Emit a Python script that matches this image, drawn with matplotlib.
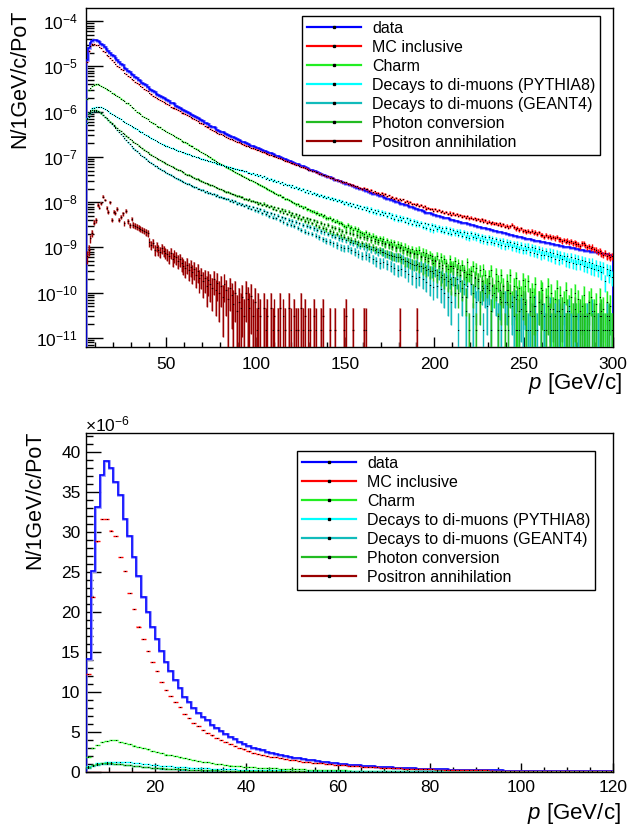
import numpy as np
import matplotlib
matplotlib.use("Agg")
import matplotlib.pyplot as plt
from matplotlib.lines import Line2D
from matplotlib.ticker import LogLocator, MultipleLocator, NullFormatter

plt.rcParams["font.family"] = ["Liberation Sans", "DejaVu Sans"]
plt.rcParams["mathtext.fontset"] = "custom"
plt.rcParams["mathtext.rm"] = "Liberation Sans"
plt.rcParams["mathtext.it"] = "Liberation Sans:italic"

# momentum bins of 1 GeV/c, from 5 to 300 GeV/c
p_lo, p_hi = 5, 300

# 100 * log10(N / 1GeV/c / PoT) for every bin, None = empty bin
data_log = [
    -485, -460, -448, -443, -441,
    -442, -444, -446, -450, -453, -457, -461, -466, -470, -474,
    -478, -482, -486, -490, -494, -498, -503, -506, -510, -513,
    -516, -519, -523, -526, -529, -532, -536, -539, -542, -546,
    -549, -552, -555, -557, -560, -563, -565, -568, -570, -573,
    -575, -577, -580, -582, -584, -587, -589, -591, -594, -596,
    -598, -601, -603, -605, -608, -610, -612, -614, -617, -619,
    -621, -624, -626, -628, -631, -633, -635, -637, -640, -642,
    -644, -646, -648, -650, -652, -654, -655, -657, -659, -661,
    -663, -665, -666, -668, -670, -671, -673, -675, -676, -678,
    -680, -681, -683, -685, -686, -688, -689, -691, -692, -694,
    -696, -697, -699, -700, -702, -704, -705, -707, -708, -710,
    -712, -713, -715, -716, -718, -720, -721, -723, -724, -726,
    -728, -729, -731, -732, -734, -736, -737, -739, -740, -742,
    -744, -745, -747, -748, -750, -751, -753, -754, -756, -757,
    -759, -760, -762, -763, -765, -766, -768, -769, -771, -772,
    -773, -775, -776, -778, -779, -781, -782, -783, -785, -786,
    -787, -789, -790, -792, -793, -795, -796, -797, -799, -800,
    -801, -803, -804, -806, -807, -809, -810, -811, -813, -814,
    -815, -817, -818, -820, -821, -823, -824, -825, -827, -828,
    -829, -830, -831, -832, -833, -834, -835, -836, -837, -839,
    -840, -841, -842, -843, -844, -845, -846, -847, -848, -849,
    -850, -851, -852, -853, -854, -855, -856, -857, -858, -859,
    -860, -861, -862, -863, -864, -865, -866, -867, -868, -869,
    -870, -871, -872, -873, -874, -875, -876, -877, -878, -879,
    -880, -881, -882, -882, -883, -884, -885, -886, -886, -887,
    -888, -889, -890, -890, -891, -892, -893, -894, -894, -895,
    -896, -897, -898, -898, -899, -900, -901, -902, -902, -903,
    -904, -905, -905, -906, -907, -908, -908, -909, -910, -910,
    -911, -912, -912, -913, -914, -915, -915, -916, -917, -918,
]

mc_log = [
    -491, -466, -454, -450, -450,
    -452, -453, -457, -460, -465, -469, -474, -478, -482, -486,
    -490, -495, -499, -502, -506, -509, -514, -517, -521, -524,
    -528, -531, -534, -537, -540, -543, -546, -549, -552, -555,
    -559, -562, -565, -567, -570, -572, -574, -577, -579, -582,
    -584, -586, -589, -591, -593, -595, -597, -599, -602, -604,
    -606, -608, -610, -612, -615, -617, -619, -621, -624, -626,
    -628, -631, -633, -635, -638, -640, -642, -644, -647, -649,
    -650, -652, -654, -656, -658, -660, -661, -663, -665, -667,
    -668, -670, -671, -673, -675, -676, -678, -680, -681, -683,
    -684, -685, -687, -689, -690, -692, -693, -695, -696, -698,
    -699, -700, -702, -703, -705, -707, -708, -710, -711, -713,
    -714, -715, -717, -718, -720, -722, -723, -724, -726, -728,
    -729, -731, -731, -734, -734, -737, -737, -740, -741, -743,
    -743, -746, -746, -747, -750, -750, -753, -753, -756, -756,
    -756, -759, -759, -762, -762, -765, -765, -768, -768, -771,
    -768, -772, -771, -775, -773, -778, -776, -780, -779, -783,
    -780, -784, -782, -787, -785, -790, -788, -792, -791, -795,
    -792, -796, -794, -799, -797, -802, -800, -804, -803, -807,
    -804, -808, -806, -811, -809, -814, -812, -816, -815, -819,
    -816, -820, -817, -822, -819, -824, -821, -826, -823, -828,
    -825, -828, -826, -830, -828, -832, -830, -834, -831, -836,
    -834, -837, -835, -839, -837, -841, -838, -843, -840, -845,
    -843, -847, -844, -848, -846, -850, -847, -852, -849, -854,
    -852, -856, -853, -850, -855, -859, -856, -861, -858, -863,
    -862, -866, -863, -867, -864, -869, -866, -871, -867, -872,
    -872, -876, -873, -877, -874, -879, -876, -880, -877, -882,
    -882, -886, -883, -887, -885, -889, -886, -891, -888, -892,
    -893, -897, -890, -891, -895, -900, -897, -902, -899, -904,
    -906, -910, -908, -913, -916, -912, -919, -917, -922, -920,
]

charm_log = [
    -572, -553, -547, -543, -541,
    -540, -540, -542, -544, -546, -548, -551, -553, -555, -558,
    -560, -563, -566, -568, -571, -574, -576, -580, -582, -585,
    -589, -592, -596, -600, -602, -606, -609, -611, -614, -617,
    -621, -623, -626, -628, -631, -633, -635, -638, -640, -643,
    -645, -647, -650, -652, -654, -657, -659, -661, -664, -666,
    -668, -670, -673, -675, -677, -680, -682, -684, -687, -689,
    -691, -694, -696, -699, -701, -704, -706, -709, -711, -714,
    -716, -718, -720, -723, -725, -727, -729, -731, -734, -736,
    -738, -740, -742, -744, -746, -748, -750, -752, -754, -756,
    -758, -760, -762, -764, -766, -769, -771, -773, -775, -777,
    -780, -781, -785, -785, -788, -789, -793, -793, -796, -797,
    -800, -801, -805, -804, -808, -809, -812, -811, -816, -815,
    -818, -820, -821, -825, -823, -828, -827, -831, -829, -835,
    -836, -834, -840, -838, -843, -841, -846, -845, -848, -852,
    -854, -851, -858, -855, -861, -857, -864, -860, -866, -869,
    -870, -866, -875, -871, -878, -874, -881, -877, -884, -880,
    -886, -881, -891, -884, -893, -887, -897, -889, -899, -893,
    -900, -894, -906, -898, -909, -901, -912, -903, -915, -906,
    -914, -905, -922, -910, -925, -912, -930, -916, -920, -934,
    -928, -918, -940, -922, -945, -926, -935, -948, -925, -941,
    -940, -930, -955, -935, -960, -938, -950, -965, -932, -958,
    -952, -940, -968, -945, -975, -950, -985, -948, -962, -990,
    -963, -950, -982, -1000, -958, -975, -1010, -960, -985, None,
    -974, -995, -960, -1020, -985, -968, -1082, -990, -1005, -972,
    -985, -1040, -975, -1082, -998, -1010, -980, None, -1020, -990,
    -995, -1082, -1010, -985, -1052, -1000, -1082, -1015, -990, -1040,
    -1005, -1082, -1020, -995, None, -1030, -1010, -1082, -1000, -1052,
    -1015, -1082, -1030, -1005, -1052, -1082, -1020, -1010, None, -1040,
    -1025, -1082, -1010, -1052, -1035, -1082, -1020, -1060, -1030, -1082,
]

dimuon_pythia_log = [
    -615, -604, -597, -593, -591,
    -590, -589, -589, -590, -592, -594, -597, -599, -602, -605,
    -607, -610, -612, -615, -617, -620, -622, -625, -627, -630,
    -632, -635, -637, -639, -642, -644, -646, -649, -651, -653,
    -656, -659, -661, -663, -665, -667, -669, -671, -673, -675,
    -677, -678, -680, -681, -683, -684, -686, -687, -689, -690,
    -692, -693, -694, -696, -697, -698, -700, -701, -702, -704,
    -705, -706, -707, -709, -710, -711, -712, -714, -715, -716,
    -717, -718, -719, -721, -722, -723, -724, -725, -726, -727,
    -728, -730, -730, -732, -732, -735, -735, -737, -736, -739,
    -738, -742, -741, -745, -743, -748, -746, -750, -749, -753,
    -751, -755, -754, -758, -756, -761, -759, -763, -761, -766,
    -763, -768, -766, -771, -769, -774, -771, -777, -774, -779,
    -776, -781, -779, -784, -782, -786, -784, -789, -786, -791,
    -788, -793, -790, -796, -792, -798, -795, -800, -797, -803,
    -799, -805, -801, -808, -804, -810, -806, -813, -808, -815,
    -810, -817, -812, -820, -814, -822, -817, -825, -819, -827,
    -821, -828, -823, -831, -825, -834, -828, -837, -830, -839,
    -832, -839, -834, -843, -836, -846, -839, -849, -841, -851,
    -843, -850, -845, -854, -847, -857, -849, -860, -851, -862,
    -852, -860, -854, -863, -856, -866, -858, -868, -860, -870,
    -861, -869, -863, -872, -865, -874, -867, -877, -869, -879,
    -869, -878, -871, -880, -873, -883, -875, -885, -877, -887,
    -878, -887, -880, -890, -882, -892, -884, -895, -886, -897,
    -887, -896, -889, -899, -891, -901, -893, -904, -895, -906,
    -896, -906, -898, -909, -900, -912, -902, -914, -904, -917,
    -906, -916, -908, -919, -910, -922, -912, -925, -914, -927,
    -916, -926, -918, -930, -920, -932, -922, -935, -924, -937,
    -926, -937, -928, -940, -930, -943, -932, -946, -934, -948,
    -938, -950, -941, -954, -944, -975, -947, -960, -950, -965,
]

dimuon_geant4_log = [
    -625, -611, -604, -601, -599,
    -598, -599, -601, -604, -607, -611, -615, -619, -623, -628,
    -632, -636, -641, -645, -650, -654, -659, -663, -668, -672,
    -677, -681, -684, -688, -691, -695, -698, -701, -704, -708,
    -711, -713, -716, -719, -721, -724, -726, -729, -731, -734,
    -736, -738, -740, -743, -745, -747, -749, -751, -753, -755,
    -757, -759, -760, -763, -764, -766, -767, -770, -770, -773,
    -773, -777, -776, -780, -779, -783, -782, -786, -785, -789,
    -788, -791, -790, -794, -793, -797, -795, -800, -798, -803,
    -801, -806, -804, -809, -806, -812, -809, -815, -811, -818,
    -813, -820, -816, -824, -819, -827, -822, -831, -825, -834,
    -827, -836, -830, -840, -833, -844, -836, -848, -839, -851,
    -841, -852, -844, -857, -847, -861, -850, -865, -853, -868,
    -855, -870, -858, -874, -861, -878, -864, -882, -867, -885,
    -870, -887, -873, -891, -876, -895, -879, -899, -882, -902,
    -884, -902, -887, -906, -890, -910, -893, -914, -896, -918,
    -897, -917, -900, -921, -903, -926, -906, -930, -909, -934,
    -910, -932, -913, -937, -916, -941, -919, -945, -922, -950,
    -922, -947, -926, -952, -930, -958, -934, -963, -938, -968,
    -936, -965, -940, -970, -944, -976, -948, -982, -952, -988,
    -950, -985, -955, -992, -960, -1000, -965, -1010, -970, -1020,
    -965, -1000, -970, -1082, -975, -1010, -980, -1040, -985, None,
    -980, -1052, -985, -1020, -990, None, -995, -1082, -1000, -1030,
    -995, -1082, -1005, None, -1010, -1052, -1015, -1082, None, -1020,
    -1020, -1082, None, -1030, -1052, -1015, None, -1082, -1035, -1052,
    -1025, None, -1082, -1040, None, -1052, -1030, -1082, None, -1045,
    None, -1052, -1082, None, -1035, -1082, None, -1052, -1082, -1040,
    -1082, None, -1052, -1082, None, -1040, -1082, None, -1052, None,
    -1082, -1052, None, -1082, None, -1052, -1082, None, -1040, -1082,
    None, -1082, -1052, None, -1082, None, -1052, -1082, None, -1082,
]

photon_conv_log = [
    -617, -604, -599, -597, -596,
    -596, -598, -601, -604, -608, -612, -615, -619, -622, -626,
    -629, -633, -636, -640, -643, -647, -650, -653, -657, -660,
    -663, -666, -669, -672, -675, -678, -681, -684, -687, -690,
    -693, -695, -698, -700, -703, -705, -707, -710, -712, -714,
    -716, -718, -720, -722, -724, -726, -728, -730, -732, -734,
    -737, -739, -740, -742, -744, -746, -748, -749, -751, -753,
    -755, -757, -758, -760, -762, -763, -765, -767, -768, -770,
    -772, -774, -775, -777, -778, -780, -781, -783, -784, -786,
    -786, -789, -789, -792, -792, -795, -794, -798, -797, -800,
    -799, -803, -801, -806, -803, -809, -806, -811, -809, -814,
    -811, -817, -813, -820, -816, -823, -819, -826, -821, -829,
    -824, -832, -827, -835, -829, -838, -833, -841, -836, -844,
    -838, -847, -840, -851, -843, -854, -846, -857, -849, -860,
    -851, -864, -854, -867, -857, -870, -860, -873, -863, -876,
    -865, -880, -868, -883, -870, -886, -873, -889, -876, -891,
    -878, -894, -880, -897, -883, -900, -886, -903, -888, -906,
    -890, -910, -893, -914, -895, -917, -898, -920, -901, -922,
    -902, -926, -905, -930, -908, -933, -911, -936, -913, -938,
    -915, -942, -918, -946, -921, -950, -924, -953, -927, -956,
    -930, -960, -935, -965, -938, -970, -940, -975, -942, -980,
    -945, -982, -948, -1000, -950, -990, -955, -1010, -958, -1082,
    -962, -1000, -965, -1082, -970, -1020, -975, -990, None, -985,
    -978, -1040, -985, None, -990, -1082, -995, -1020, -1000, -1082,
    -995, -1052, -1000, None, -1010, -1082, -1005, -1040, None, -1015,
    -1020, -1082, None, -1010, -1052, -1030, -1082, None, -1020, -1040,
    -1025, None, -1082, -1030, -1052, None, -1035, -1082, -1040, None,
    -1052, -1035, None, -1082, -1040, -1082, None, -1052, -1035, -1082,
    None, -1040, -1082, -1052, None, -1082, -1045, None, -1082, -1052,
    -1082, None, -1052, -1040, -1082, None, -1082, -1052, None, -1082,
]

positron_log = [
    -920, -905, -880, -868, -845,
    -840, -806, -812, -802, -788, -795, -813, -821, -800, -839,
    -821, -824, -815, -839, -832, -825, -846, -819, -842, -851,
    -837, -850, -852, -855, -857, -859, -861, -863, -866, -868,
    -888, -895, -890, -905, -898, -905, -910, -902, -908, -912,
    -915, -920, -912, -925, -918, -922, -930, -926, -935, -940,
    -945, -938, -950, -943, -955, -948, -960, -952, -968, -962,
    -975, -968, -985, -972, -980, -990, -970, -995, -978, -1000,
    -985, -1010, -980, -995, -1015, -990, -1005, -1025, -1000, -1040,
    -1020, -1034, -1010, -1052, -1000, -1015, -1034, -1008, -1052, -1020,
    -1082, -1034, -1052, None, -1034, -1082, -1052, None, -1034, -1082,
    -1052, None, -1082, -1034, None, -1052, -1082, None, -1034, -1082,
    None, -1052, -1082, -1082, None, -1034, -1082, -1052, None, -1082,
    -1082, None, -1052, -1082, None, None, -1082, -1052, None, None,
    None, -1082, None, None, -1082, None, None, None, None, -1082,
    -1052, None, None, None, -1082, None, None, None, None, None,
    -1082, -1082, None, None, None, None, None, None, None, None,
    None, None, None, None, None, None, None, None, None, None,
    -1082, None, None, None, None, None, None, None, None, None,
    -1082, None, None, None, None, None, None, None, None, None,
] + [None] * 100

labels = ["data", "MC inclusive", "Charm", "Decays to di-muons (PYTHIA8)",
          "Decays to di-muons (GEANT4)", "Photon conversion", "Positron annihilation"]
series = [data_log, mc_log, charm_log, dimuon_pythia_log,
          dimuon_geant4_log, photon_conv_log, positron_log]
colors = ["#0000ff", "#ff0000", "#22ee22", "#00ffff", "#11bbbb", "#22bb22", "#990000"]
bands = ["#9a9aff", "#ff8c8c", "#8cff8c", "#8cffff", "#70d0d0", "#80d880", "#cc7070"]
# weight of a single entry in each sample (for the statistical error bars)
weights = [1e-13, 2e-11, 3e-11, 3e-11, 3e-11, 3e-11, 6e-11]

edges = np.arange(p_lo, p_hi + 1)
centers = edges[:-1] + 0.5
for name, s in zip(labels, series):
    if len(s) != len(centers):
        raise ValueError(f"{name}: {len(s)} bins")

values = [np.array([np.nan if x is None else 10 ** (x / 100) for x in s]) for s in series]


def draw_data(ax, vals, scale):
    ax.stairs(vals * scale, edges, color=bands[0], lw=2.0, zorder=2)
    ax.stairs(vals * scale, edges, color=colors[0], lw=1.1, zorder=3)


def draw_points(ax, vals, color, band, w, scale, log):
    ok = ~np.isnan(vals)
    c = centers[ok]
    v = vals[ok]
    err = np.sqrt(v * w)
    lo = v - err
    if log:
        lo = np.where(lo > 0, lo, 1e-14)
    hi = v + err
    ax.bar(c, (hi - lo) * scale, bottom=lo * scale, width=1.0, color=band,
           alpha=0.6, lw=0, zorder=2)
    ax.errorbar(c, v * scale, xerr=0.5, yerr=[(v - lo) * scale, err * scale],
                fmt="none", ecolor=color, elinewidth=1.0, capsize=0, zorder=3)
    ax.plot(c, v * scale, ls="none", marker="s", ms=0.7, mew=0, color="k", zorder=4)


def draw_all(ax, scale, log):
    draw_data(ax, values[0], scale)
    for vals, col, band, w in zip(values[1:], colors[1:], bands[1:], weights[1:]):
        draw_points(ax, vals, col, band, w, scale, log)


def add_legend(ax, x0, y0):
    handles = [Line2D([], [], color=c, lw=1.6, marker="s", ms=1.4, mfc="k", mec="k")
               for c in colors]
    leg = ax.legend(handles, labels, loc="upper left", bbox_to_anchor=(x0, y0),
                    borderaxespad=0, fontsize=11.5, handlelength=3.4, handletextpad=0.7,
                    labelspacing=0.25, borderpad=0.3, fancybox=False, edgecolor="k",
                    framealpha=1, numpoints=1)
    leg.get_frame().set_linewidth(1.0)


fig = plt.figure(figsize=(6.29, 8.25), dpi=100)
ax1 = fig.add_axes([86 / 629, 1 - 347 / 825, 527 / 629, 339 / 825])
ax2 = fig.add_axes([86 / 629, 1 - 772 / 825, 527 / 629, 339 / 825])

# top: log scale, full range
draw_all(ax1, 1.0, True)
ax1.set_yscale("log")
ax1.set_xlim(5, 300)
ax1.set_ylim(10 ** -11.2, 10 ** -3.71)
ax1.xaxis.set_major_locator(MultipleLocator(50))
ax1.xaxis.set_minor_locator(MultipleLocator(10))
ax1.yaxis.set_major_locator(LogLocator(base=10, numticks=20))
ax1.yaxis.set_minor_locator(LogLocator(base=10, subs=np.arange(2, 10), numticks=20))
ax1.yaxis.set_minor_formatter(NullFormatter())
ax1.tick_params(axis="y", which="major", length=12, pad=6)
ax1.tick_params(axis="y", which="minor", length=6)
ax1.tick_params(axis="x", which="major", length=7, pad=7)
ax1.tick_params(axis="x", which="minor", length=3.5)
add_legend(ax1, (302 - 86) / 527, (347 - 16) / 339)

# bottom: linear scale, low momentum
draw_all(ax2, 1e6, False)
ax2.set_xlim(5, 120)
ax2.set_ylim(0, 42.4)
ax2.xaxis.set_major_locator(MultipleLocator(20))
ax2.xaxis.set_minor_locator(MultipleLocator(5))
ax2.yaxis.set_major_locator(MultipleLocator(5))
ax2.yaxis.set_minor_locator(MultipleLocator(1))
ax2.tick_params(axis="y", which="major", length=11, pad=4)
ax2.tick_params(axis="y", which="minor", length=5)
ax2.tick_params(axis="x", which="major", length=6.5, pad=6)
ax2.tick_params(axis="x", which="minor", length=3.5)
add_legend(ax2, (297 - 86) / 527, (772 - 451) / 339)

for ax in (ax1, ax2):
    ax.tick_params(which="both", direction="in", top=False, right=False,
                   labelsize=12.5, width=1.0, color="k")
    for sp in ax.spines.values():
        sp.set_linewidth(1.0)

fig.text(20 / 629, 1 - 10 / 825, "N/1GeV/c/PoT", rotation=90, ha="center", va="top", fontsize=15.5)
fig.text(35 / 629, 1 - 431 / 825, "N/1GeV/c/PoT", rotation=90, ha="center", va="top", fontsize=15.5)
fig.text(622 / 629, 1 - 384 / 825, "$p$ [GeV/c]", ha="right", va="center", fontsize=16)
fig.text(621 / 629, 1 - 814 / 825, "$p$ [GeV/c]", ha="right", va="center", fontsize=16)
fig.text(85 / 629, 1 - 424 / 825, r"$\times$10$^{-6}$", ha="left", va="center", fontsize=12.5)

fig.savefig("out.png", dpi=100)
